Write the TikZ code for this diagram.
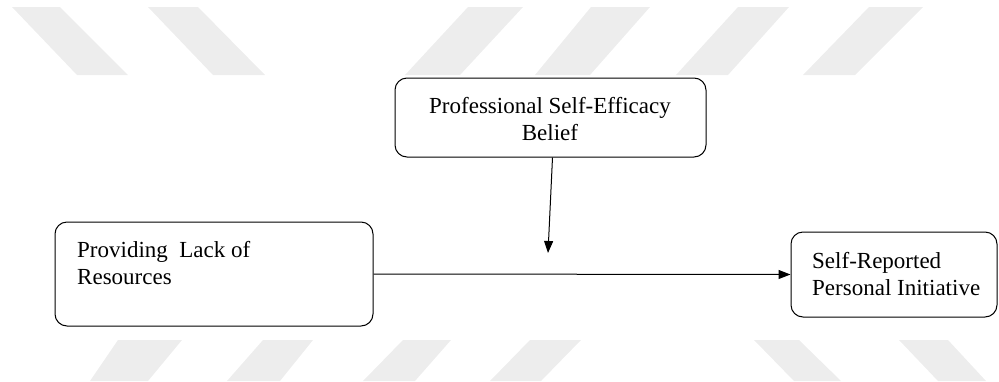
\documentclass[tikz,border=0pt]{standalone}
\usepackage{fontspec}
\setmainfont{Liberation Serif}
\usetikzlibrary{arrows.meta}
\begin{document}
\begin{tikzpicture}[x=1pt,y=-1pt,
  box/.style={draw, line width=1pt, rounded corners=12pt, inner sep=0pt},
  txt/.style={inner sep=0pt, font=\fontsize{23}{27}\selectfont},
  wm/.style={fill=black!7, draw=none},
  conn/.style={line width=1pt, -{Triangle[length=12pt,width=9pt]}}]
\useasboundingbox (0,0) rectangle (999,381);
% watermark shapes
\fill[wm] (12,7) -- (60,7) -- (128,75) -- (77,75) -- cycle;
\fill[wm] (148,7) -- (198,7) -- (265,75) -- (213,75) -- cycle;
\fill[wm] (468,7) -- (523,7) -- (460,75) -- (405,75) -- cycle;
\fill[wm] (591,7) -- (650,7) -- (590,75) -- (535,75) -- cycle;
\fill[wm] (738,7) -- (789,7) -- (728,75) -- (676,75) -- cycle;
\fill[wm] (869,7) -- (923,7) -- (855,75) -- (803,75) -- cycle;
\fill[wm] (118,340) -- (182,340) -- (148,381) -- (90,381) -- cycle;
\fill[wm] (263,340) -- (313,340) -- (280,381) -- (227,381) -- cycle;
\fill[wm] (403,340) -- (451,340) -- (415,381) -- (363,381) -- cycle;
\fill[wm] (530,340) -- (581,340) -- (541,381) -- (490,381) -- cycle;
\fill[wm] (754,340) -- (799,340) -- (841,381) -- (794,381) -- cycle;
\fill[wm] (899,340) -- (948,340) -- (986,381) -- (938,381) -- cycle;
% boxes
\node[box, minimum width=318pt, minimum height=104pt] (prov) at (214,274) {};
\node[box, minimum width=311pt, minimum height=79pt] (prof) at (550.5,117.5) {};
\node[box, minimum width=206pt, minimum height=85pt] (self) at (894,274.5) {};
% texts
\node[txt, anchor=north west, align=left] (provt) at (77,241) {Providing\ \ Lack of\\Resources};
\node[txt, anchor=north, align=center] (proft) at (550,97) {Professional Self-Efficacy\\Belief};
\node[txt, anchor=north west, align=left] (selft) at (812,252) {Self-Reported\\Personal Initiative};
% connectors
\coordinate (mid) at (548,253);
\draw[conn] (prov.east) -- (self.west);
\draw[conn] (prof.south) ++(2,0) coordinate (profs) (profs) -- (mid);
\end{tikzpicture}
\end{document}
